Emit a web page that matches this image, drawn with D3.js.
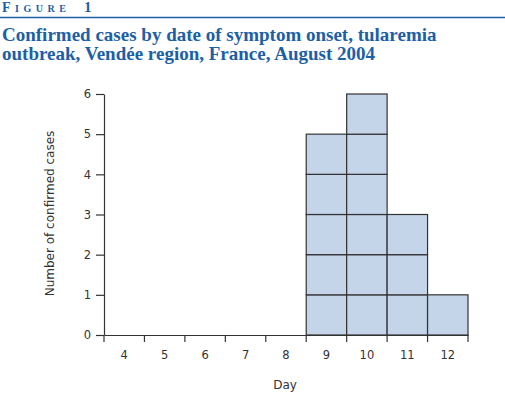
<!DOCTYPE html>
<meta charset="utf-8">
<script src="https://d3js.org/d3.v7.min.js"></script>
<style>
  body { margin: 0; background: #fff; }
</style>
<body>
<div id="chart"></div>
<script>
// data
var days = ["4", "5", "6", "7", "8", "9", "10", "11", "12"];
var cases = [0, 0, 0, 0, 0, 5, 6, 3, 1];
var yTicks = [0, 1, 2, 3, 4, 5, 6];

var W = 505, H = 394;
var blue = "#1d5fa6";
var margin = {top: 94, right: 37, bottom: 59, left: 104},
    width = W - margin.left - margin.right,
    height = H - margin.top - margin.bottom;

var svg = d3.select("#chart").append("svg")
    .attr("width", W)
    .attr("height", H);

// header
var fig = svg.append("text")
    .attr("x", 2).attr("y", 12)
    .attr("fill", blue)
    .style("font-family", "'Liberation Serif', serif")
    .style("font-weight", "bold")
    .style("font-size", "14px");
fig.append("tspan")
    .style("font-variant", "small-caps")
    .style("letter-spacing", "4.5px")
    .text("Figure");
fig.append("tspan")
    .attr("x", 84)
    .style("font-size", "15px")
    .text("1");

svg.append("line")
    .attr("x1", 0).attr("x2", W)
    .attr("y1", 17.5).attr("y2", 17.5)
    .attr("stroke", blue)
    .attr("stroke-width", 1.5);

var title = ["Confirmed cases by date of symptom onset, tularemia",
             "outbreak, Vendée region, France, August 2004"];
svg.selectAll(".title")
    .data(title)
  .enter().append("text")
    .attr("class", "title")
    .attr("x", 2)
    .attr("y", function(d, i) { return 41 + i * 19; })
    .attr("fill", blue)
    .style("font-family", "'Liberation Serif', serif")
    .style("font-weight", "bold")
    .style("font-size", "19px")
    .text(function(d) { return d; });

var g = svg.append("g")
    .attr("transform", "translate(" + margin.left + "," + margin.top + ")");

var x = d3.scaleBand()
    .domain(days)
    .range([0, width]);

var y = d3.scaleLinear()
    .domain([0, 6])
    .range([height, 0]);

// stacked unit boxes, one per case
var boxes = [];
days.forEach(function(d, i) {
  for (var k = 0; k < cases[i]; k++) boxes.push({day: d, k: k});
});

g.selectAll(".box")
    .data(boxes)
  .enter().append("rect")
    .attr("class", "box")
    .attr("x", function(d) { return x(d.day); })
    .attr("y", function(d) { return y(d.k + 1); })
    .attr("width", x.bandwidth())
    .attr("height", function(d) { return y(d.k) - y(d.k + 1); })
    .attr("fill", "#c4d4e9")
    .attr("stroke", "#333")
    .attr("stroke-width", 1.2);

// y axis
var yAxis = g.append("g")
    .call(d3.axisLeft(y).tickValues(yTicks).tickFormat(d3.format("d"))
      .tickSize(8).tickPadding(5).tickSizeOuter(0));

// x axis with ticks at the band edges
var xAxis = g.append("g")
    .attr("transform", "translate(0," + height + ")")
    .call(d3.axisBottom(x).tickSize(0).tickPadding(16).tickSizeOuter(0));

xAxis.selectAll(".edge")
    .data(d3.range(days.length + 1))
  .enter().append("line")
    .attr("class", "edge")
    .attr("x1", function(i) { return i * x.bandwidth(); })
    .attr("x2", function(i) { return i * x.bandwidth(); })
    .attr("y1", 0).attr("y2", 7)
    .attr("stroke", "#333")
    .attr("stroke-width", 1.2);

[yAxis, xAxis].forEach(function(a) {
  a.selectAll("path, line").attr("stroke", "#333").attr("stroke-width", 1.2);
  a.selectAll("text")
    .attr("fill", "#333")
    .style("font-family", "'DejaVu Sans', sans-serif")
    .style("font-size", "11.5px");
});

// axis titles
g.append("text")
    .attr("x", width / 2 - 1)
    .attr("y", height + 54)
    .attr("text-anchor", "middle")
    .attr("fill", "#333")
    .style("font-family", "'DejaVu Sans', sans-serif")
    .style("font-size", "12px")
    .text("Day");

g.append("text")
    .attr("transform", "rotate(-90)")
    .attr("x", -height / 2 + 1)
    .attr("y", -50)
    .attr("text-anchor", "middle")
    .attr("fill", "#333")
    .style("font-family", "'DejaVu Sans', sans-serif")
    .style("font-size", "12px")
    .text("Number of confirmed cases");
</script>
</body>
